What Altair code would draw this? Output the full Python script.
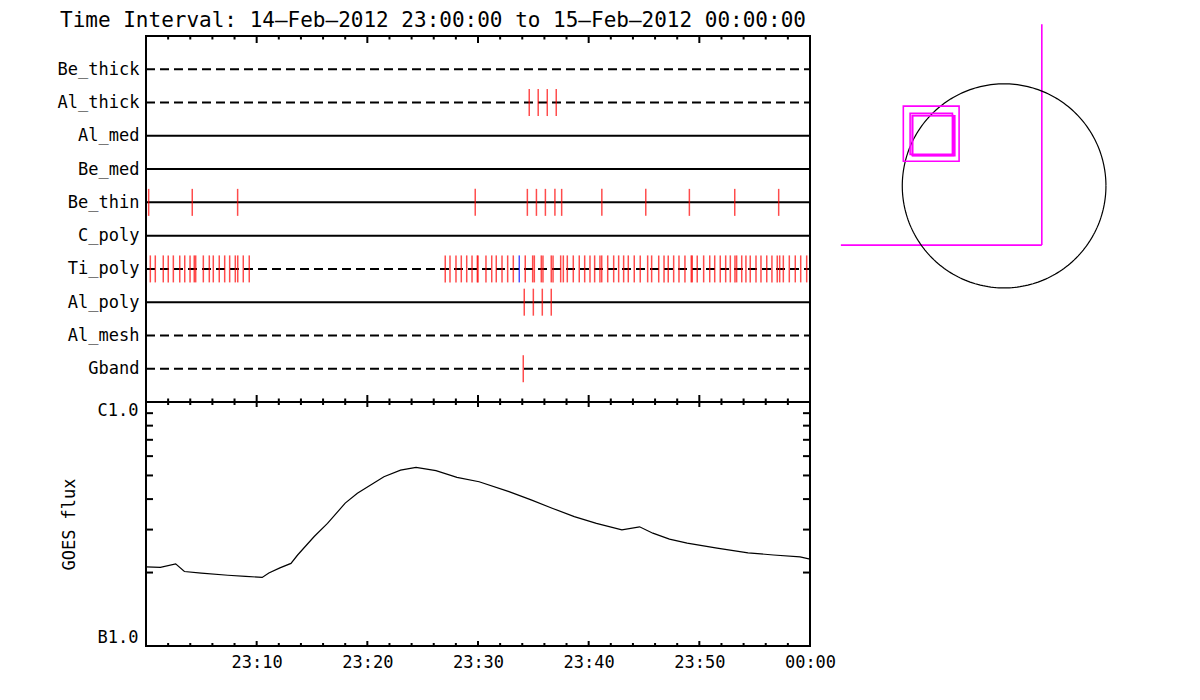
import altair as alt
import pandas as pd
import numpy as np

FONT = "DejaVu Sans Mono"
TITLE = "Time Interval: 14\u2014Feb\u20142012 23:00:00 to 15\u2014Feb\u20142012 00:00:00"

# ---------------- data ----------------
channels = ["Be_thick", "Al_thick", "Al_med", "Be_med", "Be_thin",
            "C_poly", "Ti_poly", "Al_poly", "Al_mesh", "Gband"]
line_styles = ["dashed", "dashed", "solid", "solid", "solid",
               "solid", "dashed", "solid", "dashed", "dashed"]

# event times, minutes after 23:00
al_thick_t = [34.63, 35.44, 36.26, 37.07]
be_thin_t = [0.24, 4.18, 8.28, 29.75, 34.46, 35.28, 36.09, 36.95, 37.56,
             41.19, 45.16, 49.10, 53.20, 57.17]
ti_poly_t = [0.39, 0.84, 1.56, 2.01, 2.47, 3.05, 3.50, 3.98, 4.36, 4.49,
             5.18, 5.72, 6.08, 6.62, 7.11, 7.56, 8.07, 8.29, 8.79, 9.33,
             27.04, 27.47, 28.01, 28.49, 28.98, 29.46, 29.94, 30.00, 30.72,
             31.24, 31.65, 32.17, 32.68, 33.19, 34.27, 34.94, 35.09, 35.72,
             35.87, 36.62, 36.78, 37.47, 37.71, 38.07, 38.61, 39.15, 39.64,
             40.12, 40.54, 41.02, 41.18, 41.72, 42.26, 42.71, 43.16, 43.58,
             44.12, 44.66, 45.33, 45.69, 46.33, 46.81, 47.19, 47.68, 48.16,
             48.70, 49.27, 49.36, 49.81, 50.39, 50.94, 51.39, 51.89, 52.38,
             52.80, 53.22, 53.37, 53.83, 54.21, 54.60, 55.12, 55.57, 56.09,
             56.56, 57.04, 57.26, 57.59, 58.13, 58.67, 59.16, 59.70]
ti_poly_blue_t = [33.73]
al_poly_t = [34.18, 35.00, 35.81, 36.62]
gband_t = [34.09]

# GOES flux (W/m^2) vs minutes after 23:00
goes_t = [0, 1.3, 2.68, 3.47, 5.0, 7.4, 9.0, 10.5, 11.1, 12.1, 13.1, 13.7,
          15.2, 16.4, 18.0, 19.1, 20.3, 21.5, 23.0, 24.4, 26.2, 28.1, 30.1,
          32.8, 34.8, 36.7, 38.7, 40.7, 43.0, 44.6, 45.8, 47.3, 48.9, 51.6,
          54.4, 56.7, 59.1, 60]
goes_flux = [2.11e-7, 2.10e-7, 2.17e-7, 2.02e-7, 1.99e-7, 1.95e-7, 1.93e-7,
             1.91e-7, 1.99e-7, 2.09e-7, 2.18e-7, 2.36e-7, 2.81e-7, 3.18e-7,
             3.85e-7, 4.23e-7, 4.57e-7, 4.94e-7, 5.26e-7, 5.40e-7, 5.23e-7,
             4.91e-7, 4.71e-7, 4.29e-7, 3.97e-7, 3.67e-7, 3.39e-7, 3.18e-7,
             2.99e-7, 3.08e-7, 2.90e-7, 2.74e-7, 2.64e-7, 2.52e-7, 2.41e-7,
             2.36e-7, 2.32e-7, 2.27e-7]

major_min = [0, 10, 20, 30, 40, 50, 60]
minor_min = [m for m in range(2, 60, 2) if m % 10 != 0]
x_tick_values = [10, 20, 30, 40, 50, 60]
x_tick_labels = ["23:10", "23:20", "23:30", "23:40", "23:50", "00:00"]
y_label_values = [1e-7, 1e-6]
y_label_text = ["B1.0", "C1.0"]
y_minor = [2e-7, 3e-7, 4e-7, 5e-7, 6e-7, 7e-7, 8e-7, 9e-7]

# locator map (arcsec)
sun_radius = 975
fov_boxes_x = [-965, -900, -880, -875]
fov_boxes_x2 = [-431, -495, -486, -472]
fov_boxes_y = [762, 693, 672, 670]
fov_boxes_y2 = [235, 301, 290, 288]
corner_x = 361
corner_y = -566
corner_top = 1544
corner_left = -1563

# ---------------- tables ----------------
rows_df = pd.DataFrame({"channel": channels, "style": line_styles})
ev = []
for name, ts in [("Al_thick", al_thick_t), ("Be_thin", be_thin_t),
                 ("Ti_poly", ti_poly_t), ("Al_poly", al_poly_t), ("Gband", gband_t)]:
    ev += [{"channel": name, "t": t, "col": "#ff0000"} for t in ts]
ev += [{"channel": "Ti_poly", "t": t, "col": "#0000ff"} for t in ti_poly_blue_t]
ev_df = pd.DataFrame(ev)
goes_df = pd.DataFrame({"t": goes_t, "flux": goes_flux})
major_df = pd.DataFrame({"t": major_min})
minor_df = pd.DataFrame({"t": minor_min})
yminor_df = pd.DataFrame({"flux": y_minor})

W = 664
H_TOP = 366
H_BOT = 244

xscale = alt.Scale(domain=[0, 60], nice=False, zero=False)
lab_expr = " : ".join(f"datum.value == {v} ? '{l}'" for v, l in zip(x_tick_values, x_tick_labels)) + " : ''"
ylab_expr = f"datum.value < 5e-7 ? '{y_label_text[0]}' : '{y_label_text[1]}'"
yscale = alt.Scale(type="log", domain=[1e-7, 1e-6], nice=False)

x_axis_bottom = alt.Axis(values=x_tick_values, labelExpr=lab_expr, ticks=False,
                         domain=False, labelPadding=8, title=None, grid=False,
                         labelFlush=False, labelOverlap=False,
                         labelFont=FONT, labelFontSize=17, labelColor="black")
y_axis_bottom = alt.Axis(values=y_label_values, labelExpr=ylab_expr, ticks=False,
                         domain=False, labelPadding=8, labelFlush=True,
                         title="GOES flux", titlePadding=19, titleFont=FONT,
                         titleFontSize=17, titleFontWeight="normal",
                         titleColor="black", grid=False, labelFont=FONT,
                         labelFontSize=17, labelColor="black")


def edge_ticks(df, y0, y1, axis=None):
    xenc = alt.X("t:Q", scale=xscale, axis=axis) if axis is not None else \
        alt.X("t:Q", scale=xscale, axis=None)
    return alt.Chart(df).mark_rule(color="black", strokeWidth=2).encode(
        x=xenc, y=alt.value(y0), y2=alt.value(y1))


# ---------------- top panel ----------------
rows = alt.Chart(rows_df).mark_rule(color="black", strokeWidth=2).encode(
    y=alt.Y("channel:N", sort=channels,
            scale=alt.Scale(type="point", domain=channels, padding=1),
            axis=alt.Axis(title=None, ticks=False, domain=False, labelPadding=7,
                          minExtent=132, maxExtent=132, labelFontSize=17,
                          labelFont=FONT, labelColor="black")),
    x=alt.value(0), x2=alt.value(W),
    strokeDash=alt.StrokeDash("style:N", scale=alt.Scale(domain=["solid", "dashed"],
                                                         range=[[1, 0], [9, 5]]),
                              legend=None),
)
events = alt.Chart(ev_df).mark_tick(thickness=1.5, size=27, orient="vertical").encode(
    x=alt.X("t:Q", scale=xscale, axis=None),
    y=alt.Y("channel:N", sort=channels),
    color=alt.Color("col:N", scale=None),
)
top = alt.layer(
    rows, events,
    edge_ticks(major_df, 0, 7), edge_ticks(minor_df, 0, 3.5),
    edge_ticks(major_df, H_TOP, H_TOP - 7), edge_ticks(minor_df, H_TOP, H_TOP - 3.5),
).properties(width=W, height=H_TOP)

# ---------------- bottom panel ----------------
curve = alt.Chart(goes_df).mark_line(color="black", strokeWidth=1.2).encode(
    x=alt.X("t:Q", scale=xscale, axis=x_axis_bottom),
    y=alt.Y("flux:Q", scale=yscale, axis=y_axis_bottom),
)
yt_left = alt.Chart(yminor_df).mark_rule(color="black", strokeWidth=2).encode(
    y=alt.Y("flux:Q", scale=yscale, axis=y_axis_bottom), x=alt.value(0), x2=alt.value(7))
yt_right = alt.Chart(yminor_df).mark_rule(color="black", strokeWidth=2).encode(
    y=alt.Y("flux:Q", scale=yscale, axis=y_axis_bottom), x=alt.value(W), x2=alt.value(W - 7))
bottom = alt.layer(
    curve, yt_left, yt_right,
    edge_ticks(major_df, 0, 5, x_axis_bottom), edge_ticks(minor_df, 0, 3, x_axis_bottom),
    edge_ticks(major_df, H_BOT, H_BOT - 5, x_axis_bottom),
    edge_ticks(minor_df, H_BOT, H_BOT - 3, x_axis_bottom),
).properties(width=W, height=H_BOT)

left = alt.vconcat(top, bottom, spacing=0, bounds="flush")

# ---------------- locator panel ----------------
theta = np.linspace(0, 2 * np.pi, 241)
circ_df = pd.DataFrame({"i": np.arange(len(theta)),
                        "x": sun_radius * np.cos(theta),
                        "y": sun_radius * np.sin(theta)})
box_df = pd.DataFrame({"x": fov_boxes_x, "x2": fov_boxes_x2,
                       "y": fov_boxes_y, "y2": fov_boxes_y2})
corner_df = pd.DataFrame({"x": [corner_left, corner_x], "x2": [corner_x, corner_x],
                          "y": [corner_y, corner_y], "y2": [corner_y, corner_top]})
mx = alt.Scale(domain=[-1600, 1100], nice=False, zero=False)
my = alt.Scale(domain=[-1100, 1432], nice=False, zero=False)
circ = alt.Chart(circ_df).mark_line(color="black", strokeWidth=1.2).encode(
    x=alt.X("x:Q", scale=mx, axis=None), y=alt.Y("y:Q", scale=my, axis=None),
    order="i:Q")
boxes = alt.Chart(box_df).mark_rect(fillOpacity=0, stroke="#ff00ff", strokeWidth=1.6).encode(
    x=alt.X("x:Q", scale=mx, axis=None), x2="x2:Q",
    y=alt.Y("y:Q", scale=my, axis=None), y2="y2:Q")
corner = alt.Chart(corner_df).mark_rule(color="#ff00ff", strokeWidth=1.6).encode(
    x=alt.X("x:Q", scale=mx, axis=None), x2="x2:Q",
    y=alt.Y("y:Q", scale=my, axis=None), y2="y2:Q")
locator = alt.layer(corner, circ, boxes).properties(
    width=282, height=265, view=alt.ViewBackground(strokeOpacity=0))

chart = alt.hconcat(left, locator, spacing=-6).properties(
    title=alt.TitleParams(TITLE, anchor="start", font=FONT, fontSize=21,
                          fontWeight="normal", color="black", dx=47, dy=0, offset=-8),
    background="white",
    padding={"top": 2, "left": 5, "right": 5, "bottom": 5},
).configure_view(stroke="black", strokeWidth=2).configure_axis(grid=False)

chart.save("out.html", embed_options={"renderer": "svg", "actions": False})
